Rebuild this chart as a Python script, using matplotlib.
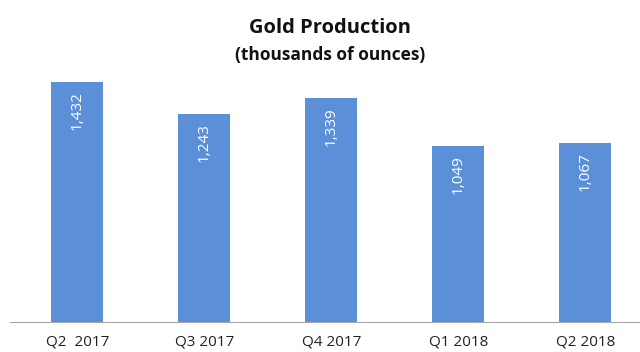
import matplotlib.pyplot as plt

quarters = ['Q2  2017', 'Q3 2017', 'Q4 2017', 'Q1 2018', 'Q2 2018']
production = [1432, 1243, 1339, 1049, 1067]

plt.rcParams['font.family'] = ['Open Sans', 'DejaVu Sans']

fig = plt.figure(figsize=(6.4, 3.52), dpi=100)
ax = fig.add_axes([10 / 640, 30 / 352, 630 / 640, 262 / 352])

x = range(len(quarters))
ax.bar(x, production, width=0.41, color='#5B8FD7')

for i, v in enumerate(production):
    ax.text(i, v - 55, f'{v:,}', rotation=90, ha='center', va='top',
            color='white', fontsize=11)

ax.set_xlim(-0.53, 4.43)
ax.set_ylim(0, 1563)
ax.set_xticks(list(x))
ax.set_xticklabels(quarters, fontsize=11, color='#222222')
ax.tick_params(axis='x', length=0, pad=9)
ax.set_yticks([])
for s in ['top', 'right', 'left']:
    ax.spines[s].set_visible(False)
ax.spines['bottom'].set_color('#A6A6A6')

fig.text(0.5156, 1 - 28 / 352, 'Gold Production', ha='center', va='center',
         fontsize=14.5, fontweight='bold', color='#111111')
fig.text(0.5156, 1 - 55 / 352, '(thousands of ounces)', ha='center', va='center',
         fontsize=12.5, fontweight='bold', color='#111111')

fig.savefig('out.png', dpi=100)
